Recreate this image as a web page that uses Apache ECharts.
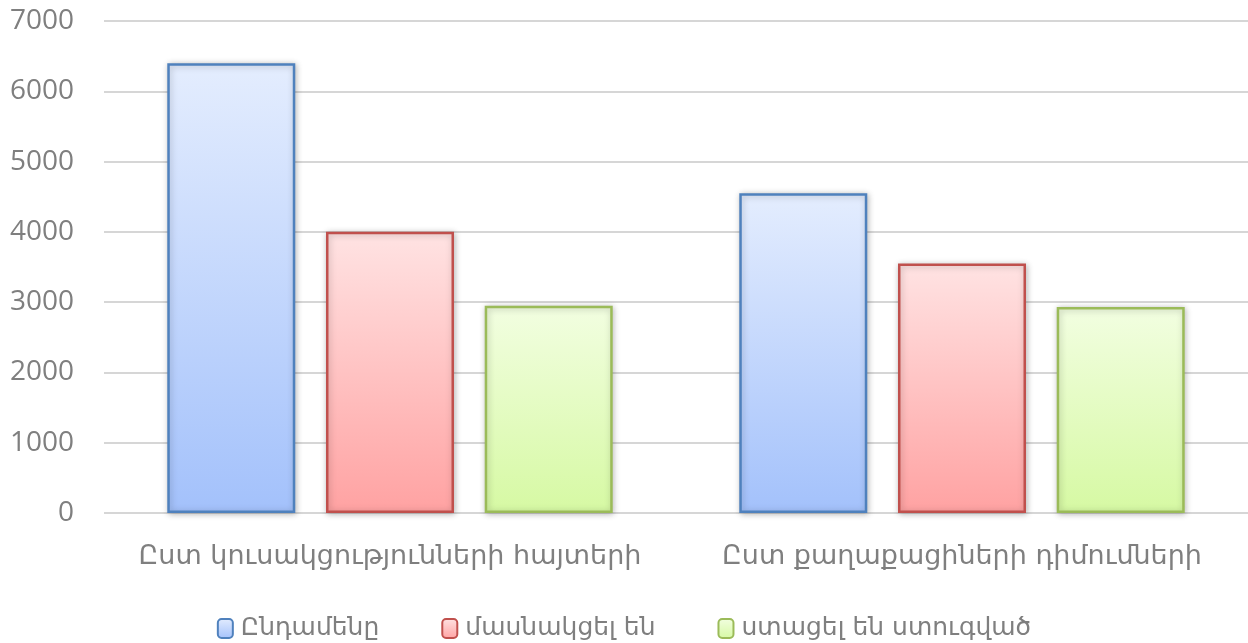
<!DOCTYPE html>
<html><head><meta charset="utf-8">
<script src="https://cdn.jsdelivr.net/npm/echarts@6/dist/echarts.min.js"></script>
<style>html,body{margin:0;padding:0;background:#fff}#c{width:1248px;height:643px}</style>
</head><body><div id="c"></div>
<script>
const categories = ["Ըստ կուսակցությունների հայտերի", "Ըստ քաղաքացիների դիմումների"];
const seriesNames = ["Ընդամենը", "մասնակցել են", "ստացել են ստուգված"];
const totalValues = [6400, 4550];
const participatedValues = [4000, 3550];
const receivedValues = [2950, 2930];
const yTicks = [0, 1000, 2000, 3000, 4000, 5000, 6000, 7000];

const NUM_FONT = "'Open Sans', 'DejaVu Sans', sans-serif";
const ARM_FONT = "'DejaVu Sans', sans-serif";
function grad(top, bottom) {
  return new echarts.graphic.LinearGradient(0, 0, 0, 1, [{offset: 0, color: top}, {offset: 1, color: bottom}]);
}
const styles = [
  {border: '#4F81BD', top: '#E4EDFE', bottom: '#A3C1FB'},
  {border: '#C0504D', top: '#FFE3E3', bottom: '#FFA2A2'},
  {border: '#9BBB59', top: '#F2FEE1', bottom: '#D6F9A3'}
];
const dataSets = [totalValues, participatedValues, receivedValues];

const chart = echarts.init(document.getElementById('c'), null, {renderer: 'canvas'});
chart.setOption({
  animation: false,
  backgroundColor: '#fff',
  grid: {left: 104, right: -3, top: 21, bottom: 130, containLabel: false},
  legend: {
    bottom: -3, left: 'center',
    itemWidth: 15, itemHeight: 19, itemGap: 62,
    textStyle: {fontFamily: ARM_FONT, fontSize: 25, color: '#7F7F7F', padding: [0, 0, 0, 3]},
    data: seriesNames
  },
  xAxis: {
    type: 'category', data: categories,
    axisLine: {show: false}, axisTick: {show: false},
    axisLabel: {interval: 0, fontFamily: ARM_FONT, fontSize: 27, color: '#7F7F7F', margin: 30}
  },
  yAxis: {
    type: 'value', min: yTicks[0], max: yTicks[yTicks.length - 1], interval: 1000,
    axisLine: {show: false}, axisTick: {show: false},
    axisLabel: {fontFamily: NUM_FONT, fontSize: 28, color: '#7F7F7F', margin: 30,
      formatter: v => String(v)},
    splitLine: {lineStyle: {color: '#D6D6D6', width: 2}}
  },
  series: seriesNames.map((n, i) => ({
    name: n, type: 'bar', data: dataSets[i],
    barWidth: 128, barGap: '24%',
    itemStyle: {
      color: grad(styles[i].top, styles[i].bottom),
      borderColor: styles[i].border, borderWidth: 2.5,
      shadowColor: 'rgba(0,0,0,0.25)', shadowBlur: 6, shadowOffsetX: 1, shadowOffsetY: 1
    }
  }))
});
</script></body></html>
